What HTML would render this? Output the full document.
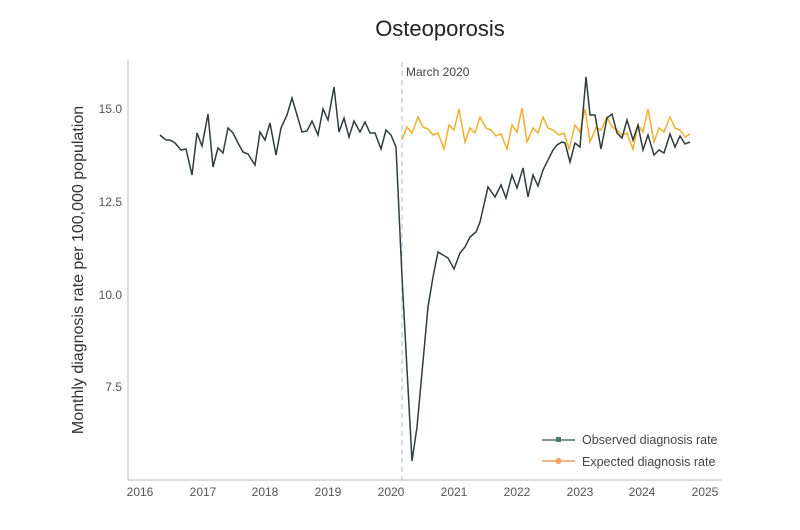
<!DOCTYPE html>
<html><head><meta charset="utf-8"><style>body{margin:0;background:#fff}svg{display:block;font-family:"Liberation Sans",sans-serif}</style></head><body>
<svg width="800" height="530" viewBox="0 0 800 530">
<rect width="800" height="530" fill="#fff"/>
<text x="440" y="36" font-size="22" text-anchor="middle" fill="#222">Osteoporosis</text>
<line x1="128" y1="60" x2="128" y2="480" stroke="#bbb"/>
<line x1="128" y1="480" x2="722" y2="480" stroke="#bbb"/>
<g font-size="12" fill="#555" text-anchor="end">
<text x="122" y="113">15.0</text><text x="122" y="206">12.5</text><text x="122" y="299">10.0</text><text x="122" y="391">7.5</text></g>
<g font-size="12" fill="#555" text-anchor="middle">
<text x="140" y="496">2016</text><text x="203" y="496">2017</text><text x="265" y="496">2018</text><text x="328" y="496">2019</text><text x="391" y="496">2020</text><text x="454" y="496">2021</text><text x="517" y="496">2022</text><text x="580" y="496">2023</text><text x="642" y="496">2024</text><text x="705" y="496">2025</text></g>
<text transform="translate(83,270) rotate(-90)" font-size="16" fill="#333" text-anchor="middle">Monthly diagnosis rate per 100,000 population</text>
<line x1="402" y1="62" x2="402" y2="480" stroke="#a9bcc8" stroke-dasharray="5,4"/>
<text x="406" y="76" font-size="12" fill="#444">March 2020</text>
<polyline fill="none" stroke="#f0b030" stroke-width="1.5" points="402,140 407,127 412,133 418,117 423,127 428,129 433,135 438,133 444,149 449,125 454,130 459,109 465,142 470,128 475,133 480,117 486,128 491,130 496,136 501,134 507,149 512,125 517,132 522,108 527,142 533,128 538,133 543,117 548,128 553,130 559,135 564,133 569,149 575,125 580,132 585,109 590,142 596,128 601,130 607,117 612,127 617,130 622,135 627,133 633,149 638,125 643,132 648,109 654,142 659,128 664,132 670,117 675,128 680,130 685,137 690,134"/>
<polyline fill="none" stroke="#2f3d3f" stroke-width="1.5" points="160,135 166,140 170,140 175,143 181,150 186,149 192,175 197,133 202,146 208,114 213,167 218,148 223,153 228,128 233,133 238,143 243,152 248,154 255,165 260,132 265,140 270,123 276,155 281,128 287,115 292,98 297,115 302,132 307,131 312,121 318,135 323,109 328,120 334,87 339,132 344,118 349,137 354,121 360,132 365,122 370,133 375,133 381,149 386,130 391,135 396,147 402,277 412,461 417,427 428,307 433,277 438,252 448,258 454,269 460,253 465,247 470,237 476,232 480,222 488,187 495,197 501,185 506,198 512,175 517,188 523,168 528,197 533,175 538,186 543,170 548,160 553,150 557,145 562,142 565,143 570,162 575,143 580,147 586,77 590,115 595,115 601,149 607,118 612,114 617,133 622,138 627,120 633,140 638,125 643,150 648,135 654,155 659,150 664,153 670,134 675,147 680,136 685,144 690,142"/>
<line x1="542" y1="440" x2="575" y2="440" stroke="#4a7a6a" stroke-width="1.5"/><rect x="556" y="437" width="5" height="5" fill="#4a7a6a"/>
<text x="582" y="444" font-size="12.5" fill="#444">Observed diagnosis rate</text>
<line x1="542" y1="461" x2="575" y2="461" stroke="#f0a060" stroke-width="1.5"/><circle cx="558.5" cy="461" r="3" fill="#f0a060"/>
<text x="582" y="466" font-size="12.5" fill="#444">Expected diagnosis rate</text>
</svg></body></html>
